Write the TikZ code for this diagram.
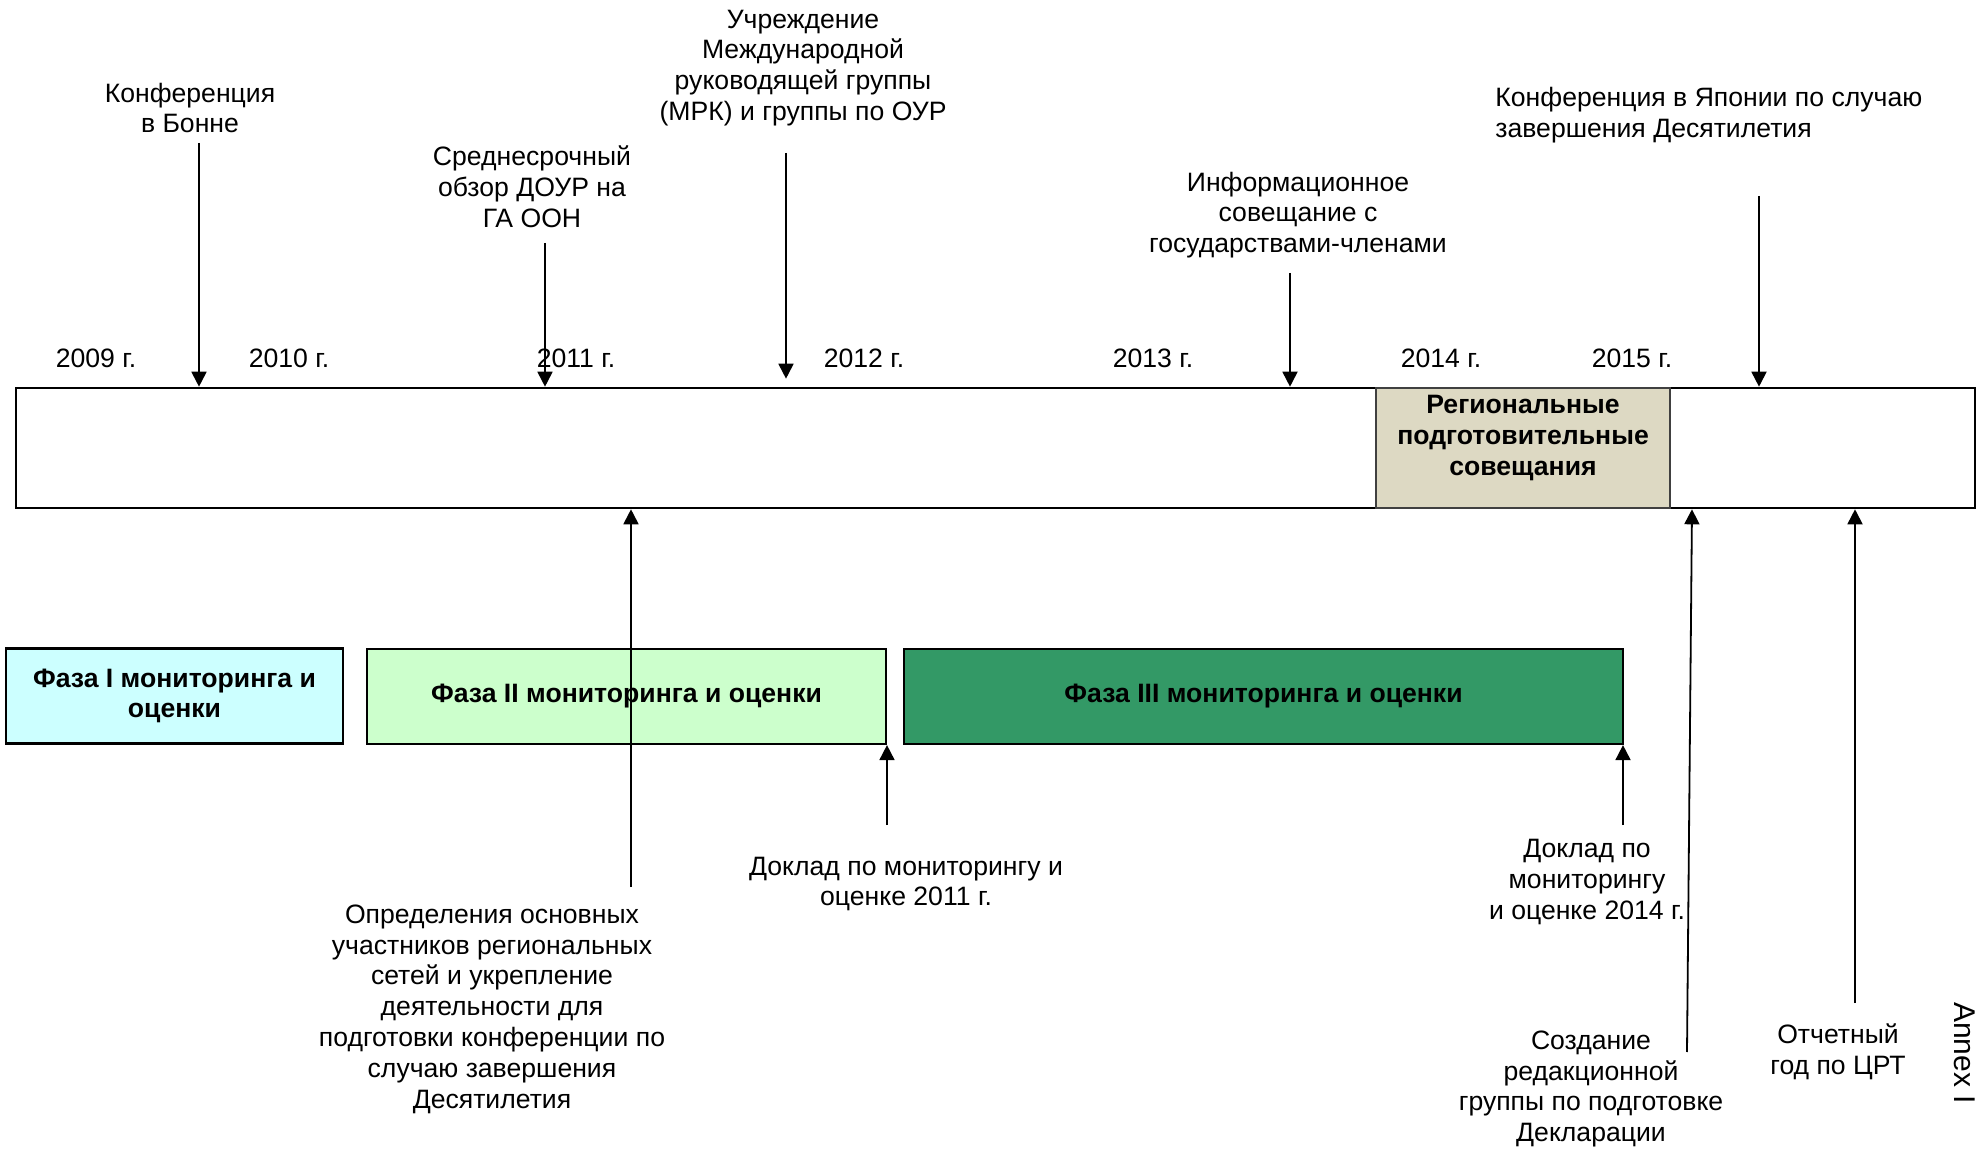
\documentclass[tikz,border=0pt]{standalone}
\usepackage{fontspec}
\setmainfont{Liberation Sans}
\usetikzlibrary{arrows.meta, positioning}
\definecolor{cphaseA}{HTML}{CCFFFF}
\definecolor{cphaseB}{HTML}{CCFFCC}
\definecolor{cphaseC}{HTML}{339966}
\definecolor{cmeet}{HTML}{DDD9C3}
\tikzset{
  txt/.style={font=\fontsize{13.3}{15.4}\selectfont, align=center, inner sep=0pt},
  phase/.style={draw, fill=#1, line width=1.1pt, minimum height=47.5pt, inner sep=0pt,
    font=\fontsize{13.3}{15.4}\selectfont\bfseries, align=center},
  arrow/.style={-{Triangle[length=7.5pt, width=7.5pt]}, line width=0.9pt},
}

\begin{document}
\begin{tikzpicture}[x=0.5pt, y=-0.5pt,
  bar/.style={draw, line width=1.3pt, inner sep=0pt, minimum height=60pt},
  meet/.style={draw=black!75, fill=cmeet, line width=1pt, inner sep=0pt, minimum height=60pt}]
  \useasboundingbox (0,0) rectangle (1977,1149);
  % timeline bar
  \node[bar, minimum width=979.5pt] (bar) at (995.5,448) {};
  \node[meet, minimum width=147pt] (meet) at (1523,448) {};
  \node[txt, font=\fontsize{13.3}{15.4}\selectfont\bfseries] (meettxt) at (1523,438) {Региональные\\подготовительные\\совещания};
  \foreach \x/\yr in {96/2009, 289/2010, 576/2011, 864/2012, 1153/2013, 1441/2014, 1632/2015}
    \node[txt] (y\yr) at (\x,358) {\yr\ г.};
  % events above
  \node[txt] (bonn) at (190,108) {Конференция\\в Бонне};
  \node[txt] (review) at (532,187) {Среднесрочный\\обзор ДОУР на\\ГА ООН};
  \node[txt] (mrk) at (803,68) {Учреждение\\Международной\\руководящей группы\\(МРК) и группы по ОУР};
  \node[txt] (info) at (1298,215) {Информационное\\совещание с\\государствами-членами};
  \node[txt, align=left, anchor=west] (japan) at (1495,115) {Конференция в Японии по случаю\\завершения Десятилетия};
  \coordinate (tbonn) at (199,143);
  \coordinate (treview) at (545,243);
  \coordinate (tmrk) at (786,153);
  \coordinate (tinfo) at (1290,273);
  \coordinate (tjapan) at (1759,196);
  \foreach \t in {tbonn, treview, tinfo, tjapan}
    \draw[arrow] (\t) -- (\t |- bar.north);
  \draw[arrow] (tmrk) -- ([yshift=4pt]tmrk |- bar.north);
  % phases
  \node[phase=cphaseA, minimum width=168.5pt] (ph1) at (174.5,696) {Фаза I мониторинга и\\оценки};
  \node[phase=cphaseB, minimum width=259.5pt] (ph2) at (626.5,696.5) {Фаза II мониторинга и оценки};
  \node[phase=cphaseC, minimum width=359.5pt] (ph3) at (1263.5,696.5) {Фаза III мониторинга и оценки};
  % events below
  \node[txt] (def) at (492,1009) {Определения основных\\участников региональных\\сетей и укрепление\\деятельности для\\подготовки конференции по\\случаю завершения\\Десятилетия};
  \node[txt] (rep11) at (906,884) {Доклад по мониторингу и\\оценке 2011 г.};
  \node[txt] (rep14) at (1587,882) {Доклад по\\мониторингу\\и оценке 2014 г.};
  \node[txt] (draft) at (1591,1089) {Создание\\редакционной\\группы по подготовке\\Декларации};
  \node[txt] (mdg) at (1838,1052) {Отчетный\\год по ЦРТ};
  \node[txt, font=\fontsize{15}{18}\selectfont, rotate=-90] (annex) at (1965,1053) {Annex I};
  \coordinate (bdef) at (631,887);
  \coordinate (brep11) at (887,825);
  \coordinate (brep14) at (1623,825);
  \coordinate (bdraft) at (1687,1052);
  \coordinate (bmdg) at (1855,1003);
  \foreach \t in {bdef, bmdg}
    \draw[arrow] (\t) -- (\t |- bar.south);
  \draw[arrow] (bdraft) -- ([xshift=2.5pt]bdraft |- bar.south);
  \draw[arrow] (brep11) -- (brep11 |- ph2.south);
  \draw[arrow] (brep14) -- (brep14 |- ph3.south);
\end{tikzpicture}
\end{document}
